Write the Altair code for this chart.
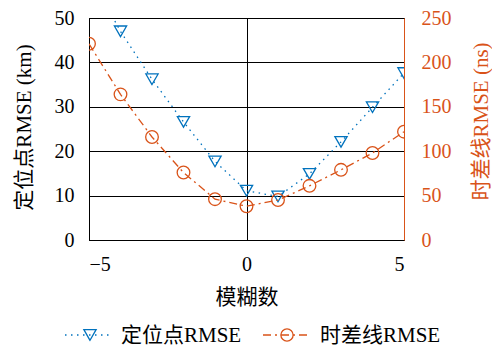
import altair as alt
import pandas as pd

# Ambiguity number vs. RMSE of the located point (km) and of the TDOA line (ns)
ambiguity = [-5, -4, -3, -2, -1, 0, 1, 2, 3, 4, 5]
point_rmse_km = [60.0, 47.0, 36.2, 26.6, 17.7, 11.1, 9.8, 14.9, 22.1, 29.9, 37.6]
line_rmse_ns = [221, 164, 116, 76, 46, 38, 45, 61, 79, 98, 122]

series_names = ["定位点RMSE", "时差线RMSE"]
BLUE = "#0072BD"
ORANGE = "#D95319"
FONT = "Liberation Serif, Noto Sans CJK SC"
FS = 20
TFS = 21

df = pd.DataFrame({"x": ambiguity, "p": point_rmse_km, "t": line_rmse_ns})

x_enc = alt.X(
    "x:Q",
    scale=alt.Scale(domain=[-5, 5], nice=False),
    axis=alt.Axis(
        title="模糊数", values=[-5, 0, 5], grid=True, gridColor="black",
        gridOpacity=1, gridWidth=1, ticks=False, labelPadding=14,
        domainColor="black", titleY=57, titleBaseline="middle",
    ),
)

base = alt.Chart(df)

left_y = alt.Y(
    "p:Q",
    scale=alt.Scale(domain=[0, 50], nice=False),
    axis=alt.Axis(
        title="定位点RMSE (km)", values=[0, 10, 20, 30, 40, 50], grid=True,
        gridColor="black", gridOpacity=1, gridWidth=1, ticks=False,
        labelPadding=15, domainColor="black", orient="left",
        titleX=-65, titleY=109, titleAngle=-90, titleBaseline="middle",
        titleAlign="center",
    ),
)

right_y = alt.Y(
    "t:Q",
    scale=alt.Scale(domain=[0, 250], nice=False),
    axis=alt.Axis(
        title="时差线RMSE (ns)", values=[0, 50, 100, 150, 200, 250], grid=False,
        ticks=False, labelPadding=17, domainColor=ORANGE, labelColor=ORANGE,
        titleColor=ORANGE, orient="right", titleX=77, titleY=103,
        titleAngle=-90, titleBaseline="middle", titleAlign="center",
    ),
)

point_line = base.mark_line(
    color=BLUE, strokeDash=[1.5, 4.5], strokeWidth=1.3, clip=True
).encode(x=x_enc, y=left_y)
point_marks = base.mark_point(
    shape="triangle-down", color=BLUE, size=150, strokeWidth=1.3,
    filled=False, clip=True, opacity=1,
).encode(x="x:Q", y="p:Q")

tdoa_line = base.mark_line(
    color=ORANGE, strokeDash=[8, 4, 2, 4], strokeWidth=1.3, clip=True
).encode(x="x:Q", y=right_y)
tdoa_marks = base.mark_point(
    shape="circle", color=ORANGE, size=160, strokeWidth=1.3,
    filled=False, clip=True, opacity=1,
).encode(x="x:Q", y="t:Q")

left_layer = alt.layer(point_line, point_marks)
right_layer = alt.layer(tdoa_line, tdoa_marks)

# Legend below the axes
leg_df = pd.DataFrame({"name": series_names})
leg_y = 317


def legend_entry(name, color, shape, dash, x0, x1, xm, xt):
    src = alt.Chart(leg_df).transform_filter(alt.datum.name == name)
    rule = src.mark_rule(color=color, strokeDash=dash, strokeWidth=1.3).encode(
        x=alt.value(x0), x2=alt.value(x1), y=alt.value(leg_y)
    )
    sym = src.mark_point(
        shape=shape, color=color, size=150, strokeWidth=1.3, filled=False,
        opacity=1,
    ).encode(x=alt.value(xm), y=alt.value(leg_y))
    txt = src.mark_text(
        align="left", baseline="middle", font=FONT, fontSize=TFS, color="black"
    ).encode(x=alt.value(xt), y=alt.value(leg_y + 1), text="name:N")
    return rule + sym + txt


legend = alt.layer(
    legend_entry(series_names[0], BLUE, "triangle-down", [1.5, 4.5], -24, 21, 1, 32),
    legend_entry(series_names[1], ORANGE, "circle", [8, 4, 2, 4], 174, 219, 198, 231),
)

chart = (
    alt.layer(left_layer, right_layer, legend)
    .resolve_scale(y="independent")
    .properties(
        width=315, height=222,
        autosize=alt.AutoSizeParams(type="none"),
        padding={"left": 89, "top": 18, "right": 88, "bottom": 107},
    )
    .configure(font=FONT)
    .configure_view(stroke="black", strokeWidth=1)
    .configure_axis(
        labelFont=FONT, titleFont=FONT, labelFontSize=FS, titleFontSize=TFS,
        labelColor="black", titleColor="black", titleFontWeight="normal",
        domainWidth=1,
    )
    .configure_axisRight(labelColor=ORANGE, titleColor=ORANGE, domainColor=ORANGE)
)

chart.save("out.html", embed_options={"renderer": "svg", "actions": False})
